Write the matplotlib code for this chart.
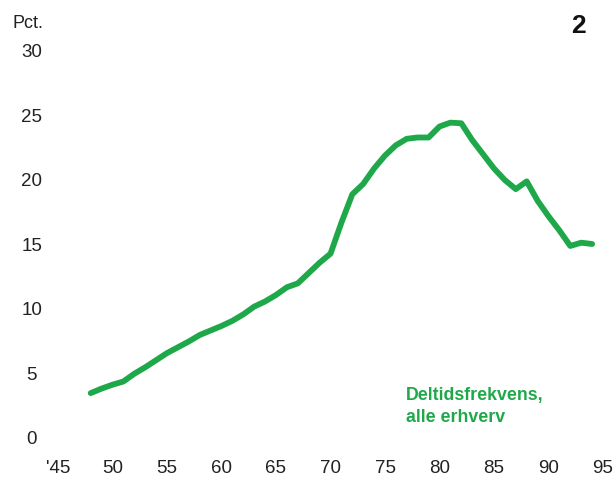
import matplotlib.pyplot as plt

plt.rcParams['font.family'] = ['Liberation Sans', 'DejaVu Sans']

# Deltidsfrekvens, alle erhverv (pct.)
years = list(range(1948, 1995))
values = [3.4, 3.75, 4.05, 4.3, 4.9, 5.4, 5.95, 6.5, 6.95, 7.4,
          7.9, 8.25, 8.6, 9.0, 9.5, 10.1, 10.5, 11.0, 11.6, 11.9,
          12.7, 13.5, 14.2, 16.6, 18.8, 19.6, 20.8, 21.8, 22.6, 23.1,
          23.2, 23.2, 24.05, 24.35, 24.3, 23.0, 21.9, 20.8, 19.9, 19.2,
          19.8, 18.3, 17.1, 16.0, 14.8, 15.05, 14.95]

x_ticks = [1945, 1950, 1955, 1960, 1965, 1970, 1975, 1980, 1985, 1990, 1995]
x_labels = ["'45", '50', '55', '60', '65', '70', '75', '80', '85', '90', '95']
y_ticks = [0, 5, 10, 15, 20, 25, 30]

green = '#1fa84a'
W, H = 616, 481

fig = plt.figure(figsize=(W / 100, H / 100), dpi=100)
ax = fig.add_axes([58 / W, 1 - 438 / H, (603 - 58) / W, (438 - 50.7) / H])

ax.plot(years, values, color=green, lw=4.2, solid_capstyle='round',
        solid_joinstyle='round', clip_on=False)

ax.set_xlim(1945, 1995)
ax.set_ylim(0, 30)
ax.set_xticks(x_ticks)
ax.set_xticklabels(x_labels)
ax.set_yticks(y_ticks)
for s in ax.spines.values():
    s.set_visible(False)
ax.tick_params(axis='x', length=0, pad=16, labelsize=13.5, labelcolor='#222222')
ax.tick_params(axis='y', length=0, pad=19, labelsize=13.5, labelcolor='#222222')
for lab in ax.get_yticklabels():
    lab.set_horizontalalignment('center')

fig.text(12 / W, 1 - 28 / H, 'Pct.', fontsize=13, color='#222222', va='baseline')
fig.text(586 / W, 1 - 33 / H, '2', fontsize=19, fontweight='bold',
         color='#111111', ha='right', va='baseline')

fig.text(406 / W, 1 - 400 / H, 'Deltidsfrekvens,', fontsize=12.8,
         fontweight='bold', color=green, va='baseline')
fig.text(406 / W, 1 - 422 / H, 'alle erhverv', fontsize=12.8,
         fontweight='bold', color=green, va='baseline')

fig.savefig('out.png', dpi=100)
